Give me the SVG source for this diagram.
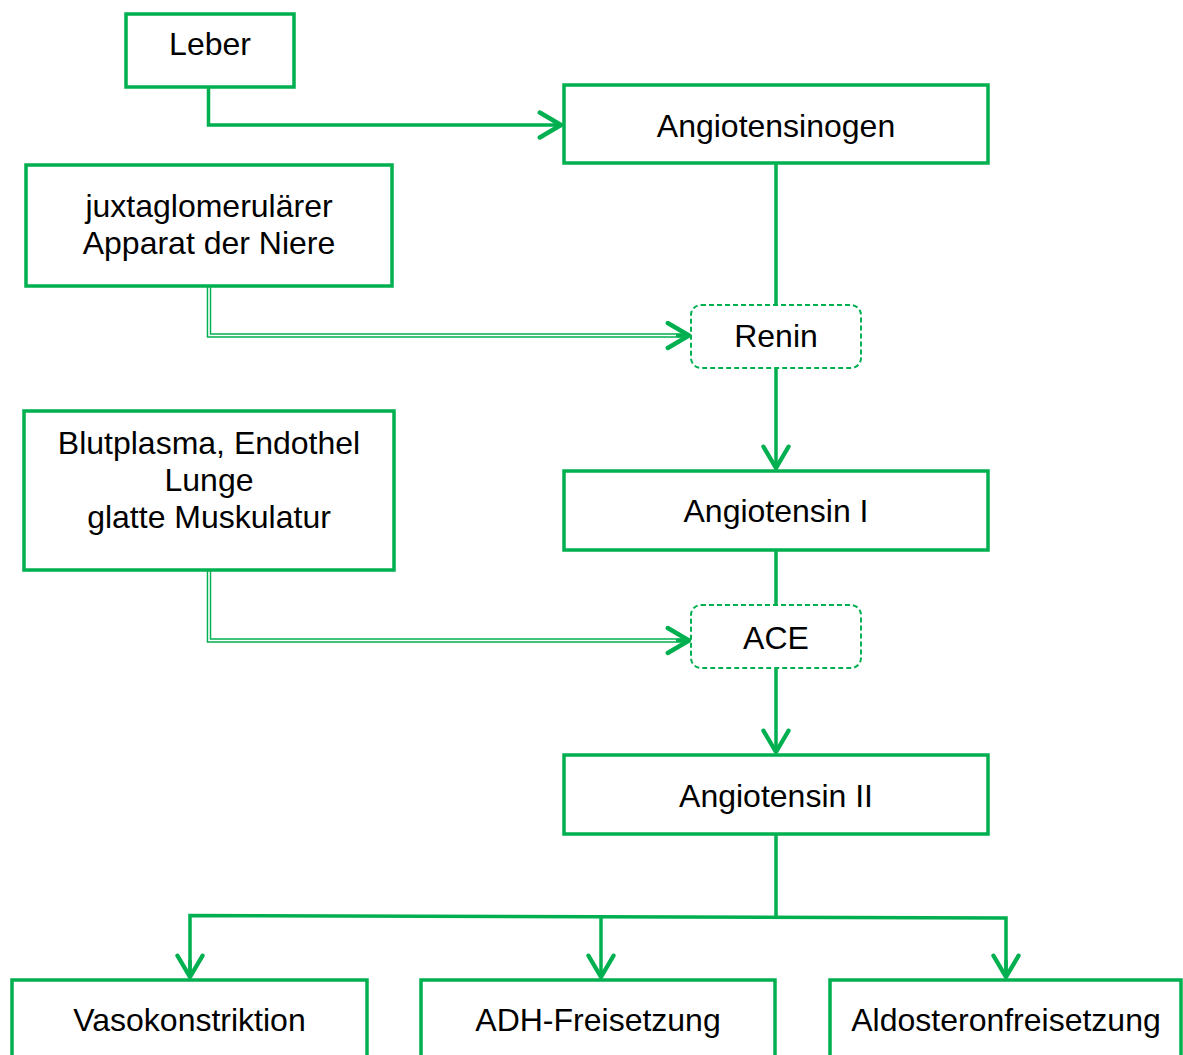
<svg xmlns="http://www.w3.org/2000/svg" width="1183" height="1055" viewBox="0 0 1183 1055">
<defs>
<style>
.box{fill:#fff;stroke:#00B050;stroke-width:3.5}
.dash{fill:#fff;stroke:#00B050;stroke-width:2;stroke-dasharray:5 3}
.ln{fill:none;stroke:#00B050;stroke-width:3.5}
.dbl{fill:none;stroke:#00B050;stroke-width:4.5}
.dbli{fill:none;stroke:#fff;stroke-width:1.6}
.t{font-family:"Liberation Sans",Arial,sans-serif;font-size:32px;fill:#000;text-anchor:middle}
</style>
<marker id="ah" markerUnits="userSpaceOnUse" markerWidth="30" markerHeight="30" viewBox="-20 -12 24 24" refX="0" refY="0" orient="auto">
<path d="M-17,-10 L0,0 L-17,10" fill="none" stroke="#00B050" stroke-width="3.5" stroke-linecap="round" stroke-linejoin="round"/>
</marker>
</defs>
<g id="connectors">
<path class="ln" d="M208.5,88 V125 H561" marker-end="url(#ah)"/>
<path class="dbl" d="M209,287 V335.5 H688"/>
<path class="dbli" d="M209,287 V335.5 H688"/>
<path class="ln" d="M676,335.5 H689" marker-end="url(#ah)"/>
<path class="dbl" d="M209,571 V640.5 H688"/>
<path class="dbli" d="M209,571 V640.5 H688"/>
<path class="ln" d="M676,640.5 H689" marker-end="url(#ah)"/>
<path class="ln" d="M776,164 V305"/>
<path class="ln" d="M776,368 V468" marker-end="url(#ah)"/>
<path class="ln" d="M776,551 V605"/>
<path class="ln" d="M776,668 V752" marker-end="url(#ah)"/>
<path class="ln" d="M776,835 V917"/>
<path class="ln" d="M190,977 V915.5 L1006,918 V977" stroke-linejoin="miter"/>
<path class="ln" d="M190,960 V977" marker-end="url(#ah)"/>
<path class="ln" d="M601,916.5 V977" marker-end="url(#ah)"/>
<path class="ln" d="M1006,960 V977" marker-end="url(#ah)"/>
</g>
<g id="leber">
<rect class="box" x="126" y="14" width="168" height="73"/>
<text class="t" x="210" y="55">Leber</text>
</g>
<g id="angiotensinogen">
<rect class="box" x="564" y="85" width="424" height="78"/>
<text class="t" x="776" y="137">Angiotensinogen</text>
</g>
<g id="juxta">
<rect class="box" x="26" y="165" width="366" height="121"/>
<text class="t" x="209" y="217">juxtaglomerulärer</text>
<text class="t" x="209" y="254">Apparat der Niere</text>
</g>
<g id="renin">
<rect class="dash" x="691" y="305" width="170" height="63" rx="10"/>
<text class="t" x="776" y="347">Renin</text>
</g>
<g id="blut">
<rect class="box" x="24" y="411" width="370" height="159"/>
<text class="t" x="209" y="454">Blutplasma, Endothel</text>
<text class="t" x="209" y="491">Lunge</text>
<text class="t" x="209" y="528">glatte Muskulatur</text>
</g>
<g id="angiotensin1">
<rect class="box" x="564" y="471" width="424" height="79"/>
<text class="t" x="776" y="522">Angiotensin I</text>
</g>
<g id="ace">
<rect class="dash" x="691" y="605" width="170" height="63" rx="10"/>
<text class="t" x="776" y="649">ACE</text>
</g>
<g id="angiotensin2">
<rect class="box" x="564" y="755" width="424" height="79"/>
<text class="t" x="776" y="807">Angiotensin II</text>
</g>
<g id="vaso">
<rect class="box" x="12" y="980" width="355" height="90"/>
<text class="t" x="189.5" y="1031">Vasokonstriktion</text>
</g>
<g id="adh">
<rect class="box" x="421" y="980" width="354" height="90"/>
<text class="t" x="598" y="1031">ADH-Freisetzung</text>
</g>
<g id="aldo">
<rect class="box" x="830" y="980" width="351" height="90"/>
<text class="t" x="1006" y="1031">Aldosteronfreisetzung</text>
</g>
</svg>
